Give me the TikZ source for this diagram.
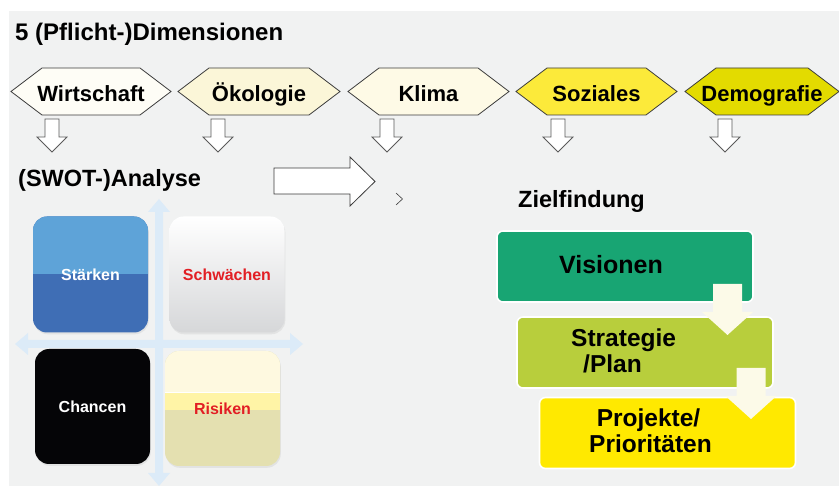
\documentclass[tikz,border=0pt]{standalone}
\usepackage{fontspec}
\setmainfont{Liberation Sans}
\usetikzlibrary{shadows}

% palette
\definecolor{panel}{RGB}{241,242,242}
\definecolor{hexgray}{RGB}{60,60,60}
\definecolor{arrowgray}{RGB}{90,90,90}
\definecolor{hexA}{RGB}{254,253,246}
\definecolor{hexB}{RGB}{251,246,216}
\definecolor{hexC}{RGB}{254,250,230}
\definecolor{hexD}{RGB}{252,234,58}
\definecolor{hexE}{RGB}{227,219,0}
\definecolor{axisblue}{RGB}{220,235,248}
\definecolor{stlight}{RGB}{94,163,216}
\definecolor{stdark}{RGB}{63,110,181}
\definecolor{swmid}{RGB}{238,238,239}
\definecolor{swlow}{RGB}{214,215,217}
\definecolor{swred}{RGB}{226,30,36}
\definecolor{chblack}{RGB}{5,5,7}
\definecolor{rcream}{RGB}{254,249,224}
\definecolor{ryellow}{RGB}{255,244,166}
\definecolor{rlow}{RGB}{228,224,176}
\definecolor{visgreen}{RGB}{24,165,115}
\definecolor{strlime}{RGB}{184,206,60}
\definecolor{prjyellow}{RGB}{255,233,0}
\definecolor{flowcream}{RGB}{252,250,232}

% hexagonal dimension tag: name, left tip x, right tip x, fill, label
\newcommand\dimhex[5]{%
  \path[hexstyle, fill=#4] (#2,91.5) -- ({#2+31},68) -- ({#3-31},68)
    -- (#3,91.5) -- ({#3-31},115) -- ({#2+31},115) -- cycle;
  \node[dimtext] (#1) at ({(#2+#3)/2},101.5) {#5};
}
% small hollow down arrow: name, centre x
\newcommand\smalldown[2]{%
  \coordinate (#1) at (#2,119);
  \path[downarrow] ({#2-7},119) -- ({#2+7},119) -- ({#2+7},137) -- ({#2+15},137)
    -- (#2,152) -- ({#2-15},137) -- ({#2-7},137) -- cycle;
}
% cream block arrow between goal boxes: name, centre x, top y
\newcommand\flowdown[3]{%
  \coordinate (#1) at (#2,#3);
  \fill[flowcream] ({#2-14.5},#3) -- ({#2+14.5},#3) -- ({#2+14.5},{#3+28})
    -- ({#2+25.5},{#3+28}) -- (#2,{#3+51}) -- ({#2-25.5},{#3+28})
    -- ({#2-14.5},{#3+28}) -- cycle;
}

\begin{document}
\begin{tikzpicture}[x=1pt,y=-1pt,
  hexstyle/.style={draw=hexgray, line width=0.8pt, line join=miter},
  dimtext/.style={font=\bfseries\fontsize{22}{26}\selectfont, inner sep=0pt, anchor=base},
  headtext/.style={font=\bfseries\fontsize{23.5}{28}\selectfont, inner sep=0pt, anchor=base west},
  downarrow/.style={draw=arrowgray, fill=white, line width=0.8pt},
  swotbox/.style={rounded corners=14pt, minimum width=115pt, minimum height=116pt,
    inner sep=0pt, font=\bfseries\fontsize{16}{18}\selectfont,
    text height=11.4pt, text depth=0pt,
    drop shadow={opacity=0.13, shadow xshift=0.8pt, shadow yshift=-1.8pt}},
  zbox/.style={rounded corners=6pt, draw=white, line width=1.6pt,
    minimum width=256pt, minimum height=71pt, inner sep=0pt},
  ztext/.style={font=\bfseries\fontsize{24.5}{28}\selectfont, inner sep=0pt, anchor=base},
]
\useasboundingbox (0,0) rectangle (839,486);
\fill[white] (0,0) rectangle (839,486);
\fill[panel] (9,11) rectangle (839,486);

% title
\node[inner sep=0pt, anchor=base west, font=\bfseries\fontsize{24}{28}\selectfont]
  (title) at (15,40.5) {5 (Pflicht-)Dimensionen};

% the five dimensions
\dimhex{wirt}{11}{171}{hexA}{Wirtschaft}
\dimhex{oeko}{178}{340}{hexB}{Ökologie}
\dimhex{klima}{348}{509}{hexC}{Klima}
\dimhex{soz}{516}{677}{hexD}{Soziales}
\dimhex{demo}{685}{839}{hexE}{Demografie}

\smalldown{dwirt}{52}
\smalldown{doeko}{218}
\smalldown{dklima}{387}
\smalldown{dsoz}{558}
\smalldown{ddemo}{725}

% SWOT heading and big arrow
\node[headtext] (swot) at (18,186.5) {(SWOT-)Analyse};
\path[draw=hexgray, fill=white, line width=0.8pt]
  (274,168) -- (350,168) -- (350,157) -- (375,181.5) -- (350,206) -- (350,194)
  -- (274,194) -- cycle;
\draw[hexgray, line width=0.6pt] (396,193) -- (402.5,199) -- (396,205);

% SWOT axes
\fill[axisblue] (155,212) -- (148,212) -- (159,199) -- (170,212) -- (163,212)
  -- (163,473) -- (170,473) -- (159,486) -- (148,473) -- (155,473) -- cycle;
\fill[axisblue] (28,340) -- (28,333) -- (15,344) -- (28,355) -- (28,348)
  -- (290,348) -- (290,355) -- (303,344) -- (290,333) -- (290,340) -- cycle;

% SWOT quadrants
\node[swotbox, fill=stdark, text=white,
  path picture={\fill[stlight, sharp corners] (path picture bounding box.north west)
    rectangle (path picture bounding box.east);}]
  (staerken) at (90.5,274.5) {Stärken};
\node[swotbox, top color=white, middle color=swmid, bottom color=swlow, text=swred]
  (schwaechen) at (227,274.5) {Schwächen};
\node[swotbox, fill=chblack, text=white, minimum height=115pt]
  (chancen) at (92.5,406.5) {Chancen};
\node[swotbox, fill=rlow, text=swred, minimum height=115pt,
  path picture={
    \fill[rcream, sharp corners] (path picture bounding box.north west)
      rectangle ([yshift=-41pt]path picture bounding box.north east);
    \fill[white, sharp corners] ([yshift=-41pt]path picture bounding box.north west)
      rectangle ([yshift=-42.2pt]path picture bounding box.north east);
    \fill[ryellow, sharp corners] ([yshift=-42.2pt]path picture bounding box.north west)
      rectangle ([yshift=-59pt]path picture bounding box.north east);}]
  (risiken) at (222.5,408.5) {Risiken};

% goal finding
\node[headtext] (ziel) at (518,208) {Zielfindung};
\node[zbox, fill=visgreen] (vis) at (625,266.5) {};
\node[zbox, fill=strlime] (strat) at (645,352.5) {};
\node[zbox, fill=prjyellow] (proj) at (667.5,433) {};

\flowdown{fa}{727.5}{284}
\flowdown{fb}{751}{368}

\node[ztext, font=\bfseries\fontsize{25}{28}\selectfont] (tvis) at (611,274) {Visionen};
\node[ztext, anchor=base west] (tstrat) at (571,347) {Strategie};
\node[ztext, anchor=base west] (tplan) at (583,372.5) {/Plan};
\node[ztext] (tproj) at (648.5,427) {Projekte/};
\node[ztext] (tprio) at (650.5,453) {Prioritäten};
\end{tikzpicture}
\end{document}
